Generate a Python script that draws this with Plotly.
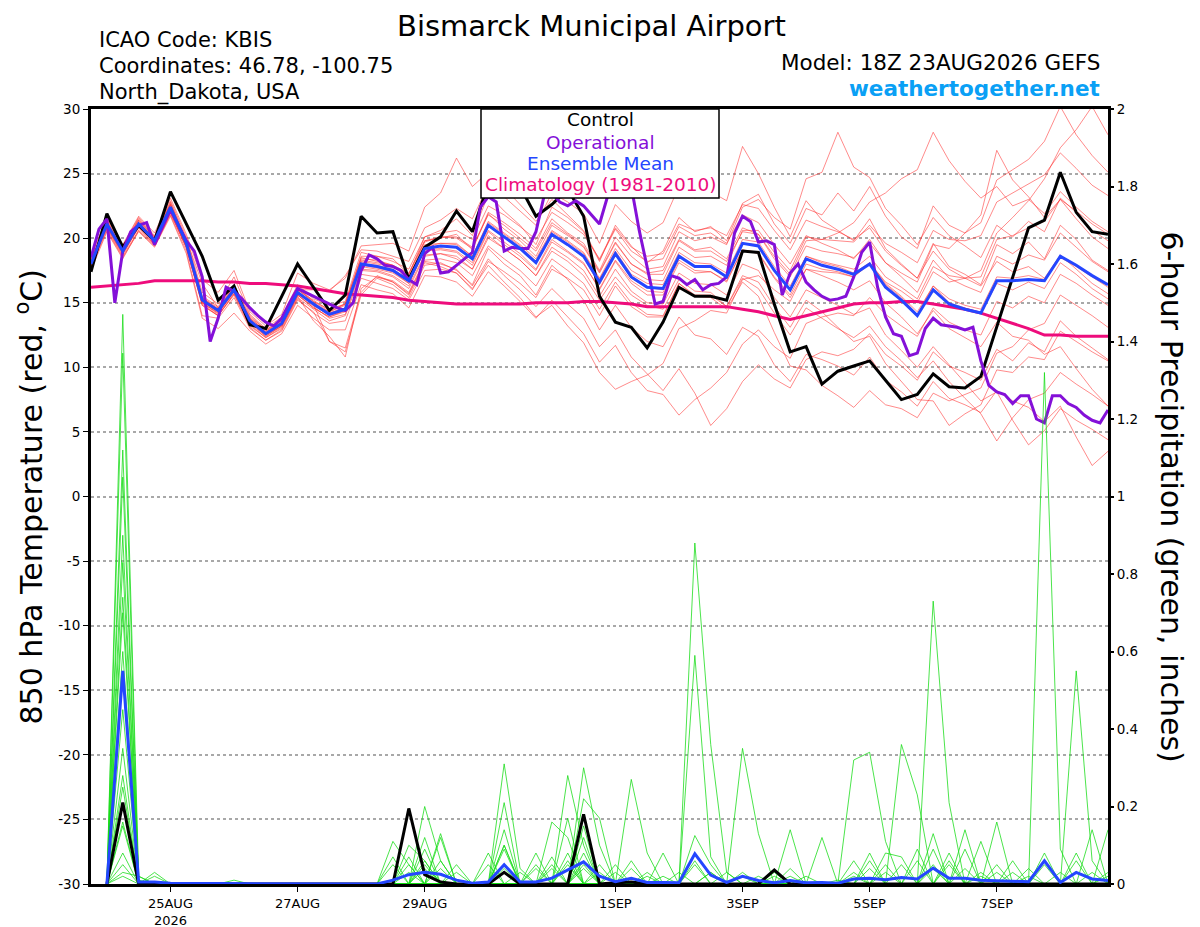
import plotly.graph_objects as go
import pandas as pd

# time axes: GEFS 6-hourly, operational GFS 3-hourly
times = pd.date_range("2026-08-23 18:00", "2026-09-08 18:00", freq="6h")
times_op = pd.date_range("2026-08-23 18:00", "2026-09-08 18:00", freq="3h")
precip_times = times[1:]

# 850 hPa temperature, ensemble members (deg C)
t01 = [17.8, 21.5, 19.4, 21.6, 20.2, 22.9, 20.1, 15.8, 14.9, 17.0, 14.1, 13.0, 13.9,
       16.4, 15.3, 14.8, 15.1, 18.9, 18.6, 18.4, 17.2, 20.1, 20.6, 21.5, 20.2, 23.4,
       22.1, 21.0, 19.5, 22.4, 21.6, 20.5, 18.2, 21.0, 19.4, 18.1, 19.0, 21.6, 20.5,
       20.9, 19.8, 22.7, 23.4, 21.1, 19.6, 22.3, 21.8, 23.5, 22.1, 24.0, 21.7, 20.1,
       19.2, 22.5, 21.0, 20.4, 21.2, 24.5, 25.3, 26.1, 27.5, 30.2, 28.0, 26.4, 25.1]
t02 = [18.3, 20.7, 18.6, 20.6, 19.4, 21.8, 19.0, 14.0, 13.8, 15.4, 13.0, 12.1, 12.8,
       15.2, 14.3, 12.0, 11.2, 15.6, 16.9, 16.4, 15.4, 17.9, 18.1, 17.5, 16.4, 19.2,
       18.0, 17.1, 15.6, 17.9, 16.8, 15.2, 12.9, 14.8, 13.1, 12.0, 11.6, 13.9, 12.5,
       12.2, 11.0, 13.1, 12.4, 10.2, 8.9, 11.0, 10.6, 10.1, 9.4, 10.8, 9.0, 8.1,
       7.0, 8.9, 7.6, 7.1, 6.5, 8.2, 7.4, 6.9, 5.8, 7.0, 4.6, 2.4, 3.5]
t03 = [17.6, 21.0, 19.3, 21.4, 20.1, 22.6, 19.9, 16.5, 14.6, 16.3, 13.9, 12.9, 13.6,
       16.0, 16.0, 15.9, 17.1, 19.1, 19.0, 18.6, 18.2, 20.8, 21.4, 22.3, 21.5, 24.1,
       23.2, 22.1, 21.0, 23.5, 22.8, 21.9, 19.6, 22.6, 21.3, 20.4, 21.2, 24.0, 23.1,
       23.6, 22.9, 27.1, 25.0, 22.4, 20.1, 22.9, 21.4, 20.6, 19.8, 21.5, 19.2, 18.0,
       16.9, 19.6, 17.8, 17.2, 16.4, 19.5, 18.8, 19.7, 18.4, 21.0, 19.9, 18.3, 17.5]
t04 = [18.1, 20.9, 18.9, 20.8, 19.5, 22.1, 19.2, 14.9, 14.0, 15.7, 13.2, 12.3, 13.0,
       15.5, 13.6, 12.4, 10.8, 16.1, 17.0, 16.6, 15.7, 18.2, 18.0, 17.6, 16.3, 18.4,
       17.1, 16.0, 14.7, 16.1, 14.9, 13.8, 11.6, 12.9, 10.8, 9.5, 8.2, 9.9, 8.0,
       5.5, 6.8, 8.9, 10.2, 9.1, 8.4, 10.6, 11.2, 10.9, 11.4, 12.6, 11.0, 10.1,
       9.0, 11.2, 10.1, 9.6, 9.0, 11.4, 10.5, 11.9, 11.2, 13.6, 12.4, 11.5, 10.6]
t05 = [18.4, 21.3, 19.1, 21.2, 19.9, 22.5, 19.7, 15.3, 14.4, 16.2, 13.7, 12.7, 13.5,
       16.1, 15.0, 14.2, 14.6, 18.3, 18.1, 17.9, 17.0, 19.7, 20.1, 20.0, 19.2, 22.0,
       21.2, 20.3, 19.2, 21.5, 20.4, 19.6, 17.5, 20.1, 18.6, 17.6, 17.8, 20.5, 19.8,
       20.1, 19.5, 22.4, 23.0, 21.6, 20.7, 24.6, 25.1, 28.2, 25.5, 24.7, 22.3, 21.0,
       19.5, 21.6, 20.2, 19.4, 18.5, 21.0, 20.1, 21.3, 20.5, 23.1, 22.0, 20.6, 19.8]
t06 = [17.9, 20.8, 18.7, 20.9, 19.6, 22.2, 19.4, 15.0, 14.1, 15.9, 13.4, 12.4, 13.2,
       15.6, 14.6, 13.9, 14.3, 17.6, 17.5, 17.1, 16.3, 18.7, 18.8, 18.4, 17.6, 20.0,
       19.2, 18.3, 17.1, 19.0, 18.2, 17.1, 15.2, 17.0, 15.6, 14.8, 14.5, 16.8, 15.9,
       15.8, 14.7, 16.9, 16.1, 14.2, 12.5, 14.6, 13.8, 13.0, 12.3, 13.2, 11.6, 10.5,
       9.2, 10.5, 8.9, 7.6, 6.4, 4.3, 6.1, 7.5, 8.0, 9.6, 8.7, 7.9, 7.0]
t07 = [18.2, 21.2, 19.2, 21.3, 20.0, 22.6, 19.8, 15.5, 14.7, 16.4, 14.0, 12.9, 13.7,
       16.2, 15.1, 14.5, 14.9, 18.5, 18.2, 17.9, 17.2, 19.8, 20.0, 20.3, 19.1, 21.9,
       20.7, 19.8, 18.6, 21.0, 20.2, 19.3, 17.3, 19.6, 18.0, 17.3, 17.5, 19.9, 19.1,
       19.3, 18.4, 20.8, 20.3, 18.6, 17.2, 19.8, 19.9, 20.4, 21.2, 22.8, 23.5, 24.6,
       25.3, 28.2, 26.0, 24.4, 23.1, 24.0, 22.5, 23.0, 21.9, 23.6, 22.4, 21.3, 20.5]
t08 = [17.7, 20.6, 18.5, 20.5, 19.3, 21.7, 18.8, 13.8, 13.0, 14.2, 12.8, 11.8, 12.6,
       14.8, 13.8, 12.9, 12.9, 16.4, 16.0, 15.7, 14.6, 17.1, 17.0, 16.6, 15.5, 17.4,
       16.3, 15.1, 13.8, 15.2, 13.9, 12.6, 10.4, 11.7, 9.6, 8.2, 7.9, 6.3, 7.5,
       8.4, 9.6, 11.8, 12.9, 11.6, 10.7, 13.4, 13.9, 14.2, 14.0, 15.4, 14.1, 13.2,
       12.4, 14.6, 13.5, 12.9, 12.5, 15.1, 14.6, 15.5, 15.0, 17.2, 16.5, 15.6, 14.8]
t09 = [18.6, 21.6, 19.5, 21.7, 20.4, 23.1, 20.3, 16.8, 15.8, 17.5, 14.3, 13.2, 14.1,
       17.3, 16.5, 16.0, 16.9, 19.4, 19.5, 19.6, 19.0, 22.4, 23.5, 26.2, 24.0, 25.1,
       23.9, 22.6, 21.3, 23.0, 21.8, 20.6, 18.3, 20.7, 19.0, 18.2, 18.4, 20.9, 20.2,
       20.4, 19.6, 21.8, 21.2, 19.5, 18.0, 20.2, 19.6, 19.1, 18.4, 19.9, 18.1, 17.0,
       15.8, 18.3, 16.9, 16.3, 15.8, 18.6, 18.0, 18.7, 18.3, 20.4, 19.3, 18.2, 17.4]
t10 = [18.0, 21.0, 18.9, 21.0, 19.7, 22.3, 19.5, 15.1, 14.3, 16.0, 13.5, 12.5, 13.3,
       15.8, 14.8, 14.0, 14.4, 17.9, 17.7, 17.4, 16.5, 19.1, 19.2, 19.0, 18.1, 20.6,
       19.7, 18.8, 17.6, 19.9, 19.0, 18.1, 16.0, 18.2, 16.5, 15.6, 15.6, 18.1, 17.3,
       17.4, 16.6, 19.1, 18.9, 17.0, 15.6, 18.0, 17.6, 17.4, 17.0, 18.1, 16.6, 15.9,
       15.0, 17.4, 16.6, 16.9, 17.5, 20.4, 21.6, 22.9, 24.6, 27.0, 28.4, 30.2, 28.0]
t11 = [18.5, 21.0, 19.0, 21.0, 19.6, 22.0, 19.3, 14.8, 14.0, 15.6, 13.1, 12.1, 12.9,
       15.3, 14.2, 13.4, 13.6, 16.9, 16.5, 16.1, 15.2, 17.5, 17.6, 17.3, 16.0, 18.2,
       17.4, 16.5, 15.4, 17.6, 16.9, 16.0, 14.0, 16.3, 14.7, 13.9, 13.9, 16.5, 15.5,
       15.4, 14.5, 16.6, 15.5, 12.7, 10.1, 9.8, 8.6, 7.8, 6.9, 8.2, 7.1, 6.8,
       6.1, 8.0, 7.4, 7.9, 8.4, 11.1, 11.6, 12.9, 13.4, 15.6, 14.8, 14.0, 13.1]
t12 = [17.5, 20.5, 18.4, 20.6, 19.4, 21.9, 19.3, 15.0, 14.2, 15.8, 13.5, 12.6, 13.3,
       15.7, 14.9, 14.3, 14.9, 18.6, 18.6, 18.2, 17.6, 20.1, 20.4, 20.6, 19.9, 22.5,
       21.8, 20.9, 19.9, 22.0, 21.2, 20.3, 18.4, 20.8, 19.3, 18.6, 18.8, 21.1, 20.6,
       20.8, 20.2, 22.6, 22.3, 20.6, 19.1, 21.4, 20.9, 20.5, 19.9, 20.8, 19.0, 17.9,
       16.9, 19.0, 17.6, 16.9, 16.3, 18.2, 17.4, 17.8, 16.9, 18.7, 17.6, 16.5, 15.7]
t13 = [18.3, 21.4, 19.3, 21.5, 20.1, 22.8, 19.9, 15.4, 14.5, 16.1, 13.7, 12.6, 13.4,
       15.9, 14.9, 12.0, 11.5, 15.8, 17.1, 16.6, 15.6, 18.1, 17.8, 17.3, 16.1, 17.9,
       16.6, 15.4, 13.9, 14.8, 13.2, 11.9, 9.6, 8.3, 8.9, 9.4, 10.3, 13.0, 13.6,
       14.4, 14.2, 16.8, 17.1, 16.0, 15.1, 17.6, 17.4, 17.3, 17.0, 18.0, 16.4, 15.4,
       14.1, 16.3, 15.0, 14.6, 14.2, 16.5, 16.0, 16.6, 16.1, 18.1, 17.2, 16.1, 15.3]
t14 = [17.8, 21.1, 19.0, 21.1, 19.8, 22.3, 19.5, 15.1, 14.3, 15.9, 13.5, 12.4, 13.2,
       15.6, 14.7, 13.8, 14.1, 17.5, 17.4, 17.0, 16.1, 18.6, 18.8, 18.6, 17.6, 20.2,
       19.2, 18.3, 17.1, 19.3, 18.5, 17.5, 15.5, 17.6, 15.9, 15.0, 14.9, 17.3, 16.5,
       16.4, 15.6, 18.0, 17.5, 15.4, 13.9, 16.0, 15.4, 14.8, 14.1, 14.6, 12.5, 11.3,
       10.0, 11.6, 10.2, 8.8, 7.4, 8.1, 5.9, 4.0, 5.1, 6.8, 5.9, 5.2, 4.4]
t15 = [18.1, 21.0, 19.1, 21.2, 19.9, 22.4, 19.8, 15.4, 14.6, 16.2, 13.8, 12.8, 13.6,
       16.0, 15.2, 14.4, 14.9, 18.4, 18.3, 17.9, 17.3, 19.8, 20.1, 20.1, 19.3, 21.8,
       21.0, 20.0, 19.0, 21.2, 20.3, 19.4, 17.4, 19.7, 18.0, 17.2, 17.2, 19.8, 19.0,
       19.0, 18.2, 20.5, 20.3, 18.4, 17.0, 19.4, 19.0, 18.8, 18.5, 19.6, 18.1, 17.3,
       16.6, 19.5, 19.2, 20.4, 21.8, 26.8, 24.5, 23.2, 21.6, 23.0, 21.5, 20.1, 19.2]
t16 = [18.2, 20.9, 18.8, 20.8, 19.5, 22.0, 19.3, 14.8, 14.0, 15.7, 13.3, 12.3, 13.1,
       15.4, 14.5, 13.6, 14.0, 17.2, 17.0, 16.7, 15.8, 18.3, 18.4, 18.1, 17.1, 19.4,
       18.4, 17.5, 16.3, 18.4, 17.5, 16.5, 14.5, 16.6, 15.0, 14.1, 14.0, 16.5, 15.6,
       15.6, 14.7, 17.1, 16.6, 14.7, 13.1, 15.2, 14.3, 13.1, 12.0, 12.4, 10.3, 8.9,
       7.5, 7.4, 5.5, 6.4, 7.1, 9.8, 9.6, 10.8, 10.6, 12.8, 12.0, 11.2, 10.5]
t17 = [18.0, 21.3, 19.2, 21.4, 20.0, 22.7, 19.6, 15.3, 14.5, 16.1, 13.8, 12.8, 13.5,
       16.0, 15.1, 14.3, 14.8, 18.2, 18.0, 17.8, 16.9, 19.5, 19.6, 19.6, 18.6, 21.2,
       20.3, 19.4, 18.2, 20.5, 19.7, 18.8, 16.8, 19.0, 17.2, 16.5, 16.4, 18.9, 18.1,
       18.0, 17.3, 19.9, 19.7, 17.8, 16.3, 18.6, 18.1, 17.8, 17.3, 18.1, 16.5, 15.5,
       14.3, 16.3, 15.3, 14.8, 14.5, 17.0, 16.9, 17.1, 16.8, 18.5, 17.8, 17.0, 16.2]
t18 = [17.9, 21.2, 19.1, 21.2, 19.9, 22.6, 19.7, 15.3, 14.5, 16.1, 13.6, 12.6, 13.4,
       15.9, 14.9, 14.1, 14.5, 18.1, 17.8, 17.5, 16.8, 19.3, 19.6, 19.5, 18.6, 21.3,
       20.4, 19.5, 18.4, 20.6, 19.8, 18.9, 16.9, 19.2, 17.5, 16.8, 16.7, 19.3, 18.5,
       18.6, 17.9, 20.6, 20.6, 18.9, 17.5, 20.1, 19.9, 19.8, 19.7, 21.0, 19.6, 18.9,
       18.1, 20.6, 19.9, 19.8, 20.2, 22.8, 23.5, 24.2, 24.9, 26.6, 25.4, 24.1, 23.3]
t19 = [18.2, 21.0, 18.9, 21.0, 19.6, 22.3, 19.4, 15.0, 14.2, 15.9, 13.5, 12.5, 13.2,
       15.6, 14.6, 13.9, 14.4, 17.8, 17.6, 17.3, 16.5, 19.0, 19.1, 18.9, 17.9, 20.5,
       19.5, 18.6, 17.5, 19.7, 18.9, 18.0, 16.1, 18.3, 16.7, 15.9, 15.8, 18.3, 17.5,
       17.4, 16.7, 19.1, 18.8, 16.9, 15.4, 17.6, 17.1, 16.6, 16.0, 16.7, 15.0, 13.9,
       12.6, 14.4, 13.0, 12.3, 11.6, 13.5, 12.4, 12.1, 11.0, 11.6, 9.9, 8.3, 7.0]
t20 = [17.7, 20.8, 18.8, 20.9, 19.7, 22.2, 19.6, 15.2, 14.4, 16.0, 13.6, 12.7, 13.4,
       15.8, 14.8, 14.2, 14.6, 18.0, 17.9, 17.6, 16.8, 19.3, 19.4, 19.3, 18.3, 20.9,
       20.1, 19.2, 18.0, 20.3, 19.5, 18.5, 16.4, 18.7, 16.9, 16.2, 16.0, 18.7, 17.8,
       17.8, 16.9, 19.6, 19.5, 17.5, 16.0, 18.6, 18.2, 17.9, 17.6, 18.6, 17.0, 16.2,
       15.3, 17.8, 17.1, 16.9, 17.0, 19.9, 20.2, 20.8, 21.3, 23.0, 22.1, 21.1, 20.3]

temp_control = [17.4, 21.9, 19.3, 21.0, 19.8, 23.6, 21.1, 18.6, 15.2, 16.3, 13.3, 13.0, 15.5,
                18.0, 16.2, 14.4, 15.6, 21.7, 20.4, 20.5, 16.8, 19.3, 20.1, 22.1, 20.5, 24.2,
                25.0, 24.0, 21.7, 22.6, 23.8, 21.7, 15.5, 13.5, 13.1, 11.5, 13.5, 16.2, 15.5,
                15.5, 15.2, 19.0, 18.9, 14.9, 11.2, 11.6, 8.7, 9.7, 10.1, 10.5, 9.0, 7.5,
                7.9, 9.5, 8.5, 8.4, 9.3, 13.1, 16.9, 20.8, 21.4, 25.1, 22.0, 20.5, 20.3]

temp_mean = [18.0, 21.1, 19.0, 21.1, 19.8, 22.4, 19.6, 15.2, 14.4, 16.0, 13.6, 12.6, 13.4,
             15.8, 14.9, 14.1, 14.5, 18.0, 17.8, 17.5, 16.7, 19.2, 19.4, 19.3, 18.4, 21.0,
             20.1, 19.2, 18.1, 20.3, 19.5, 18.6, 16.6, 18.8, 17.0, 16.2, 16.1, 18.6, 17.8,
             17.8, 17.0, 19.6, 19.4, 17.5, 16.0, 18.4, 17.9, 17.6, 17.2, 18.0, 16.2, 15.2,
             14.0, 16.0, 14.9, 14.5, 14.2, 16.7, 16.7, 16.8, 16.7, 18.6, 17.9, 17.1, 16.4]

temp_clim = [16.2, 16.3, 16.4, 16.5, 16.7, 16.7, 16.7, 16.7, 16.6, 16.6, 16.5, 16.5, 16.4,
             16.3, 16.1, 15.9, 15.7, 15.6, 15.5, 15.4, 15.2, 15.1, 15.0, 14.9, 14.9, 14.9,
             14.9, 14.9, 15.0, 15.0, 15.0, 15.1, 15.1, 15.0, 14.9, 14.7, 14.7, 14.7, 14.7,
             14.7, 14.7, 14.5, 14.3, 14.0, 13.7, 14.0, 14.3, 14.6, 14.9, 15.0, 15.0, 15.1,
             15.1, 14.9, 14.7, 14.5, 14.2, 13.8, 13.4, 13.0, 12.5, 12.5, 12.4, 12.4, 12.4]

# operational run, 3-hourly
temp_oper = [18.5, 20.7, 21.5, 15.0, 19.0, 20.5, 21.0, 21.2, 19.5, 20.8, 22.2, 21.0, 19.8, 19.0, 17.0, 12.0,
             13.8, 16.2, 15.9, 15.3, 14.6, 14.0, 13.5, 13.2, 13.8, 15.0, 16.1, 15.8, 15.5, 15.2, 14.9, 14.6,
             14.4, 15.0, 17.5, 18.7, 18.4, 17.9, 17.8, 17.5, 16.8, 16.4, 18.8, 19.3, 17.3, 17.4, 17.9, 18.4,
             18.9, 22.4, 23.2, 22.8, 19.0, 19.3, 19.2, 19.2, 20.5, 23.2, 23.5, 22.8, 22.5, 22.9, 22.5, 21.8,
             21.1, 23.2, 24.5, 24.5, 24.0, 20.6, 17.8, 14.9, 15.1, 17.1, 16.9, 16.4, 16.8, 16.0, 16.4, 16.5,
             17.0, 20.4, 21.7, 21.3, 19.7, 19.8, 19.5, 15.6, 17.3, 18.0, 16.6, 16.0, 15.5, 15.2, 15.3, 15.5,
             17.0, 18.9, 19.7, 16.2, 13.9, 12.6, 12.4, 10.9, 11.1, 13.0, 13.8, 13.3, 13.2, 13.1, 12.9, 13.1,
             10.5, 8.6, 8.1, 7.9, 7.2, 7.8, 7.8, 6.0, 5.7, 7.8, 7.8, 7.2, 6.9, 6.3, 5.9, 5.7,
             6.7]

# 6-hour precipitation (inches), from 24AUG 00Z
p01 = [0, 1.47, 0.02, 0, 0, 0, 0, 0, 0, 0, 0, 0, 0, 0, 0, 0,
       0, 0, 0, 0, 0.2, 0.06, 0, 0, 0, 0, 0, 0, 0, 0.28, 0.1, 0,
       0, 0, 0, 0, 0, 0.06, 0, 0, 0, 0, 0, 0, 0, 0, 0, 0,
       0, 0, 0, 0, 0.73, 0.21, 0, 0, 0, 0, 0, 0.08, 0, 0, 0, 0]
p02 = [0, 1.37, 0, 0, 0, 0, 0, 0, 0, 0, 0, 0, 0, 0, 0, 0,
       0, 0, 0.11, 0.05, 0, 0, 0, 0, 0, 0.31, 0.04, 0, 0, 0, 0, 0,
       0, 0.27, 0.08, 0, 0, 0, 0, 0, 0, 0, 0, 0, 0, 0, 0, 0.06,
       0, 0, 0, 0, 0, 0, 0, 0, 0, 0, 0, 0, 0, 0.55, 0.06, 0]
p03 = [0, 1.12, 0, 0.03, 0, 0, 0, 0, 0, 0, 0, 0, 0, 0, 0, 0,
       0, 0, 0, 0, 0, 0.13, 0, 0, 0, 0, 0, 0, 0, 0, 0.30, 0.1,
       0, 0, 0, 0, 0, 0.88, 0.36, 0.03, 0, 0, 0, 0, 0, 0, 0, 0,
       0.08, 0, 0, 0, 0, 0, 0, 0, 0.16, 0, 0, 0, 0, 0, 0, 0]
p04 = [0, 1.05, 0, 0, 0, 0, 0, 0, 0, 0, 0, 0, 0, 0, 0, 0,
       0, 0, 0, 0.1, 0.06, 0, 0, 0, 0, 0, 0, 0, 0.16, 0.12, 0, 0,
       0, 0, 0, 0, 0, 0, 0, 0, 0, 0, 0, 0.14, 0, 0, 0, 0,
       0, 0, 0.36, 0.23, 0, 0, 0, 0, 0, 0, 0, 1.32, 0.09, 0, 0, 0]
p05 = [0, 0.83, 0.01, 0, 0, 0, 0, 0, 0, 0, 0, 0, 0, 0, 0, 0,
       0, 0, 0, 0, 0, 0, 0, 0, 0, 0.21, 0, 0, 0, 0, 0.22, 0.17,
       0, 0, 0, 0, 0, 0, 0, 0, 0.35, 0.13, 0, 0, 0, 0, 0, 0.32,
       0.34, 0.11, 0, 0, 0, 0, 0.14, 0, 0, 0, 0, 0, 0, 0, 0, 0.14]
p06 = [0, 0.74, 0, 0, 0, 0, 0, 0, 0, 0, 0, 0, 0, 0, 0, 0,
       0, 0, 0.07, 0, 0.12, 0, 0, 0, 0, 0, 0, 0.08, 0, 0, 0, 0,
       0, 0, 0, 0, 0, 0.59, 0.07, 0, 0, 0, 0, 0, 0, 0.12, 0, 0,
       0, 0, 0, 0, 0.13, 0, 0, 0.11, 0, 0, 0, 0, 0, 0, 0.14, 0]
p07 = [0, 0.70, 0, 0, 0, 0, 0, 0, 0, 0, 0, 0, 0, 0, 0, 0,
       0, 0, 0, 0, 0.09, 0, 0, 0, 0, 0.14, 0, 0, 0, 0.17, 0, 0,
       0.05, 0, 0, 0.08, 0, 0, 0, 0, 0, 0, 0, 0, 0, 0, 0, 0,
       0, 0.08, 0.07, 0, 0, 0, 0, 0, 0, 0.06, 0, 0, 0, 0.08, 0, 0]
p08 = [0, 0.55, 0, 0, 0, 0, 0, 0, 0, 0, 0, 0, 0, 0, 0, 0,
       0, 0, 0, 0.07, 0, 0.12, 0, 0, 0, 0, 0, 0, 0.07, 0, 0.12, 0,
       0, 0, 0, 0, 0, 0.125, 0.05, 0, 0, 0, 0, 0, 0, 0, 0, 0,
       0, 0, 0, 0.09, 0, 0.08, 0, 0, 0, 0, 0, 0, 0, 0, 0, 0.03]
p09 = [0, 0.45, 0, 0.02, 0, 0, 0, 0, 0, 0, 0, 0, 0, 0, 0, 0,
       0, 0, 0, 0, 0, 0, 0.05, 0, 0, 0.09, 0, 0, 0, 0.08, 0, 0,
       0, 0.06, 0, 0, 0, 0, 0, 0, 0, 0, 0, 0.04, 0, 0, 0, 0,
       0.06, 0, 0, 0, 0, 0, 0.09, 0, 0, 0, 0.04, 0, 0, 0, 0, 0]
p10 = [0, 0.28, 0, 0, 0, 0, 0, 0, 0, 0, 0, 0, 0, 0, 0, 0,
       0, 0, 0.05, 0, 0, 0.06, 0, 0, 0.08, 0, 0, 0, 0, 0, 0.06, 0,
       0, 0, 0, 0, 0.03, 0, 0, 0, 0, 0.02, 0, 0, 0, 0, 0, 0,
       0, 0, 0, 0, 0.09, 0, 0, 0, 0.05, 0, 0, 0, 0, 0, 0.03, 0]
p11 = [0, 0.25, 0, 0, 0, 0, 0, 0, 0, 0, 0, 0, 0, 0, 0, 0,
       0, 0, 0, 0, 0.06, 0, 0, 0, 0, 0.1, 0, 0, 0.05, 0, 0, 0.05,
       0, 0, 0.03, 0, 0, 0, 0, 0, 0, 0, 0.03, 0, 0, 0, 0, 0,
       0, 0.03, 0, 0, 0, 0, 0, 0.03, 0, 0, 0, 0, 0, 0.06, 0, 0]
p12 = [0, 0.16, 0, 0, 0, 0, 0, 0, 0.01, 0, 0, 0, 0, 0, 0, 0,
       0, 0, 0, 0.05, 0, 0, 0, 0, 0, 0, 0, 0.05, 0, 0, 0.15, 0,
       0.03, 0, 0, 0, 0, 0, 0, 0.03, 0, 0, 0, 0, 0, 0, 0, 0.03,
       0, 0, 0, 0, 0, 0.06, 0, 0, 0, 0.03, 0, 0, 0, 0, 0, 0]
p13 = [0, 0.15, 0, 0, 0, 0, 0, 0, 0, 0, 0, 0, 0, 0, 0, 0,
       0, 0, 0, 0, 0, 0, 0.03, 0, 0, 0.05, 0, 0, 0, 0.05, 0, 0,
       0, 0.04, 0, 0, 0, 0, 0, 0, 0.03, 0, 0, 0, 0, 0, 0.01, 0,
       0, 0, 0.05, 0, 0, 0, 0.04, 0, 0, 0, 0, 0, 0.03, 0, 0, 0]
p14 = [0, 0.08, 0, 0, 0, 0, 0, 0, 0, 0, 0, 0, 0, 0, 0, 0,
       0, 0, 0, 0, 0, 0, 0, 0, 0.05, 0, 0, 0, 0, 0, 0.05, 0,
       0, 0, 0, 0.02, 0, 0, 0, 0, 0, 0, 0.02, 0, 0, 0, 0, 0,
       0, 0, 0, 0.06, 0, 0, 0, 0, 0, 0, 0.02, 0, 0, 0, 0, 0]
p15 = [0, 0.03, 0.02, 0, 0, 0, 0, 0, 0, 0, 0, 0, 0, 0, 0, 0,
       0, 0, 0, 0, 0, 0, 0, 0, 0, 0.1, 0, 0, 0, 0, 0.08, 0,
       0, 0, 0, 0, 0, 0, 0.03, 0, 0, 0, 0, 0, 0.02, 0, 0, 0,
       0, 0, 0, 0, 0, 0.05, 0, 0, 0, 0, 0, 0, 0, 0, 0, 0]
p16 = [0, 0.02, 0, 0, 0, 0, 0, 0, 0, 0, 0, 0, 0, 0, 0, 0,
       0, 0, 0, 0, 0, 0, 0, 0, 0, 0, 0.03, 0, 0.04, 0, 0, 0,
       0, 0, 0, 0, 0, 0, 0, 0, 0.02, 0, 0, 0, 0, 0, 0, 0,
       0, 0, 0, 0, 0.05, 0, 0, 0, 0, 0, 0, 0, 0, 0, 0, 0]
p17 = [0, 0.60, 0, 0, 0, 0, 0, 0, 0, 0, 0, 0, 0, 0, 0, 0,
       0, 0, 0, 0, 0.05, 0, 0, 0, 0, 0, 0, 0, 0, 0.06, 0, 0,
       0, 0, 0, 0, 0, 0.05, 0, 0, 0, 0, 0, 0, 0, 0, 0, 0,
       0.04, 0, 0, 0, 0, 0, 0, 0, 0, 0, 0, 0.05, 0, 0, 0, 0]
p18 = [0, 0.90, 0, 0, 0, 0, 0, 0, 0, 0, 0, 0, 0, 0, 0, 0,
       0, 0, 0, 0, 0, 0.04, 0, 0, 0, 0, 0, 0, 0, 0, 0.04, 0,
       0, 0, 0, 0, 0, 0, 0.03, 0, 0, 0, 0, 0, 0, 0, 0, 0,
       0, 0.05, 0, 0, 0, 0, 0, 0, 0.03, 0, 0, 0, 0, 0, 0, 0]
p19 = [0, 0.35, 0, 0, 0, 0, 0, 0, 0, 0, 0, 0, 0, 0, 0, 0,
       0, 0, 0, 0.03, 0, 0, 0, 0, 0, 0, 0, 0.04, 0, 0, 0, 0.03,
       0, 0, 0, 0, 0, 0, 0, 0, 0, 0, 0, 0.02, 0, 0, 0, 0,
       0, 0, 0, 0, 0, 0, 0, 0.02, 0, 0, 0, 0, 0, 0, 0, 0.02]
p20 = [0, 0.05, 0, 0, 0, 0, 0, 0, 0, 0, 0, 0, 0, 0, 0, 0,
       0, 0, 0, 0, 0.04, 0, 0, 0, 0, 0.04, 0, 0, 0, 0, 0, 0,
       0, 0, 0.02, 0, 0, 0, 0, 0, 0, 0, 0, 0, 0, 0, 0, 0.02,
       0, 0, 0, 0, 0.04, 0, 0, 0, 0, 0, 0, 0, 0, 0, 0, 0]

precip_control = [0, 0.21, 0, 0, 0, 0, 0, 0, 0, 0, 0, 0, 0, 0, 0, 0,
                  0, 0, 0, 0.195, 0.024, 0.005, 0, 0, 0, 0.03, 0, 0, 0, 0, 0.18, 0,
                  0.003, 0.005, 0, 0, 0, 0, 0, 0, 0, 0, 0.036, 0, 0, 0, 0, 0,
                  0, 0, 0, 0, 0, 0, 0, 0, 0, 0, 0, 0, 0, 0, 0, 0]
precip_mean = [0, 0.55, 0.005, 0.005, 0.002, 0.001, 0.001, 0.001, 0.001, 0.001, 0, 0, 0, 0, 0, 0,
               0, 0, 0.01, 0.024, 0.03, 0.025, 0.01, 0.002, 0.005, 0.05, 0.005, 0.005, 0.015, 0.035, 0.057, 0.02,
               0.006, 0.015, 0.004, 0.004, 0.003, 0.078, 0.023, 0.004, 0.02, 0.009, 0.003, 0.009, 0.003, 0.004, 0.002, 0.013,
               0.015, 0.011, 0.017, 0.013, 0.041, 0.015, 0.015, 0.01, 0.008, 0.007, 0.006, 0.06, 0.004, 0.03, 0.013, 0.009]

temp_members = [t01, t02, t03, t04, t05, t06, t07, t08, t09, t10,
                t11, t12, t13, t14, t15, t16, t17, t18, t19, t20]
precip_members = [p01, p02, p03, p04, p05, p06, p07, p08, p09, p10,
                  p11, p12, p13, p14, p15, p16, p17, p18, p19, p20]

# axis ticks
temp_ticks = [-30, -25, -20, -15, -10, -5, 0, 5, 10, 15, 20, 25, 30]
temp_labels = ["-30", "-25", "-20", "-15", "-10", "-5", "0", "5", "10", "15", "20", "25", "30"]
precip_ticks = [0, 0.2, 0.4, 0.6, 0.8, 1, 1.2, 1.4, 1.6, 1.8, 2]
precip_labels = ["0", "0.2", "0.4", "0.6", "0.8", "1", "1.2", "1.4", "1.6", "1.8", "2"]
date_ticks = ["2026-08-25", "2026-08-27", "2026-08-29", "2026-09-01",
              "2026-09-03", "2026-09-05", "2026-09-07"]
date_labels = ["25AUG<br>2026", "27AUG", "29AUG", "1SEP", "3SEP", "5SEP", "7SEP"]

FONT = "DejaVu Sans"
RED = "rgba(255,45,45,0.62)"
GREEN = "rgba(20,220,20,0.85)"
BLACK = "#000000"
PURPLE = "#8410d8"
BLUE = "#2446ff"
MAGENTA = "#ee0c7c"

fig = go.Figure()

for m in temp_members:
    fig.add_trace(go.Scatter(x=times, y=m, mode="lines",
                             line=dict(color=RED, width=0.9), hoverinfo="skip"))

fig.add_trace(go.Scatter(x=times, y=temp_clim, mode="lines", line=dict(color=MAGENTA, width=3)))
fig.add_trace(go.Scatter(x=times, y=temp_control, mode="lines", line=dict(color=BLACK, width=3)))
fig.add_trace(go.Scatter(x=times_op, y=temp_oper, mode="lines", line=dict(color=PURPLE, width=3)))
fig.add_trace(go.Scatter(x=times, y=temp_mean, mode="lines", line=dict(color=BLUE, width=3)))

for m in precip_members:
    fig.add_trace(go.Scatter(x=precip_times, y=m, mode="lines", yaxis="y2",
                             line=dict(color=GREEN, width=0.9), hoverinfo="skip"))
fig.add_trace(go.Scatter(x=precip_times, y=precip_control, mode="lines", yaxis="y2",
                         line=dict(color=BLACK, width=3)))
fig.add_trace(go.Scatter(x=precip_times, y=precip_mean, mode="lines", yaxis="y2",
                         line=dict(color=BLUE, width=3)))

# the page adds an 8 px body margin; target plot box on screen: x 91..1108, y 109..884
W, H, OFF = 1192, 919, 8
L, R, T, B = 91 - OFF, 1192 - (1108 - OFF), 109 - OFF, 919 - (884 - OFF)


def px(x):
    return (x - 91) / 1017.0


def py(y):
    return 1 + (109 - y) / 775.0


annos = [
    dict(text="Bismarck Municipal Airport", x=px(591), y=py(26), xanchor="center",
         font=dict(size=29, color="black")),
    dict(text="ICAO Code: KBIS", x=px(97), y=py(40), xanchor="left", font=dict(size=21, color="black")),
    dict(text="Coordinates: 46.78, -100.75", x=px(97), y=py(66), xanchor="left",
         font=dict(size=21, color="black")),
    dict(text="North_Dakota, USA", x=px(97), y=py(93), xanchor="left", font=dict(size=21, color="black")),
    dict(text="Model: 18Z 23AUG2026 GEFS", x=px(1102), y=py(62), xanchor="right",
         font=dict(size=21.5, color="black")),
    dict(text="<b>weathertogether.net</b>", x=px(1102), y=py(89), xanchor="right",
         font=dict(size=21.5, color="#0aa0f5")),
    dict(text="850 hPa Temperature (red, <sup>o</sup>C)", x=px(30), y=0.5, textangle=-90,
         xanchor="center", font=dict(size=30, color="black")),
    dict(text="6-hour Precipitation (green, inches)", x=px(1171), y=0.5, textangle=90,
         xanchor="center", font=dict(size=30, color="black")),
    dict(text="Control", x=px(600), y=py(120), xanchor="center", font=dict(size=18.5, color=BLACK)),
    dict(text="Operational", x=px(600), y=py(142), xanchor="center", font=dict(size=18.5, color=PURPLE)),
    dict(text="Ensemble Mean", x=px(600), y=py(163), xanchor="center", font=dict(size=18.5, color=BLUE)),
    dict(text="Climatology (1981-2010)", x=px(600), y=py(185), xanchor="center",
         font=dict(size=18.5, color=MAGENTA)),
]
for a in annos:
    a.update(xref="paper", yref="paper", yanchor="middle", showarrow=False)

fig.update_layout(
    width=W, height=H,
    margin=dict(l=L, r=R, t=T, b=B, autoexpand=False),
    paper_bgcolor="white", plot_bgcolor="white",
    font=dict(family=FONT, color="black", size=13),
    showlegend=False,
    annotations=annos,
    shapes=[dict(type="rect", xref="paper", yref="paper",
                 x0=px(481), x1=px(719), y0=py(198), y1=1,
                 fillcolor="white", line=dict(color="black", width=1.5), layer="above")],
    xaxis=dict(range=["2026-08-23 18:00", "2026-09-08 18:00"],
               tickvals=date_ticks, ticktext=date_labels, automargin=False,
               showline=True, linecolor="black", linewidth=3, mirror=True,
               ticks="outside", ticklen=5, tickcolor="black", showgrid=False,
               zeroline=False, tickfont=dict(size=13)),
    yaxis=dict(range=[-30, 30], tickvals=temp_ticks, ticktext=temp_labels, automargin=False,
               showline=True, linecolor="black", linewidth=3, mirror=True,
               ticks="outside", ticklen=5, tickcolor="black",
               showgrid=True, gridcolor="#a8a8a8", gridwidth=1.5, griddash="dot",
               zeroline=False, tickfont=dict(size=13.5)),
    yaxis2=dict(range=[0, 2], overlaying="y", side="right", automargin=False,
                tickvals=precip_ticks, ticktext=precip_labels,
                showline=False, ticks="outside", ticklen=5, tickwidth=1.5, tickcolor="black",
                showgrid=False, zeroline=False, tickfont=dict(size=13.5)),
)

fig.write_html("out.html")
